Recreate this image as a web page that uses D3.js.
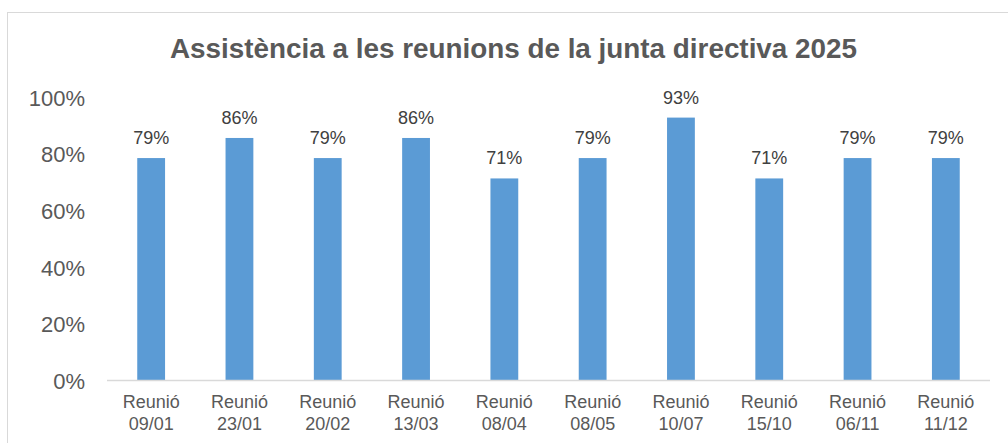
<!DOCTYPE html>
<html>
<head>
<meta charset="utf-8">
<script src="https://cdn.jsdelivr.net/npm/d3@7"></script>
<style>
  html, body { margin: 0; padding: 0; background: #fff; }
  svg { display: block; font-family: "Liberation Sans", Arial, sans-serif; }
</style>
</head>
<body>
<svg id="chart" width="1008" height="443"></svg>
<script>
const title = "Assistència a les reunions de la junta directiva 2025";
const categories = ["Reunió 09/01", "Reunió 23/01", "Reunió 20/02", "Reunió 13/03", "Reunió 08/04",
                    "Reunió 08/05", "Reunió 10/07", "Reunió 15/10", "Reunió 06/11", "Reunió 11/12"];
const values = [0.786, 0.857, 0.786, 0.857, 0.714, 0.786, 0.929, 0.714, 0.786, 0.786];
const yTicks = [0, 0.2, 0.4, 0.6, 0.8, 1.0];

const svg = d3.select("#chart");
const plot = { left: 107, right: 990, top: 97.5, bottom: 380.5 };

// chart frame (cropped on right and bottom)
svg.append("rect")
  .attr("x", 7.5).attr("y", 12.5)
  .attr("width", 1100).attr("height", 500)
  .attr("fill", "none").attr("stroke", "#d9d9d9").attr("stroke-width", 1);

svg.append("text")
  .attr("x", 513.5).attr("y", 57.5)
  .attr("text-anchor", "middle")
  .attr("font-size", 27.5).attr("font-weight", "bold")
  .attr("fill", "#595959")
  .attr("textLength", 687).attr("lengthAdjust", "spacingAndGlyphs")
  .text(title);

const x = d3.scaleBand().domain(categories).range([plot.left, plot.right]).paddingInner(0.685).paddingOuter(0.3425);
const y = d3.scaleLinear().domain([0, 1]).range([plot.bottom, plot.top]);

// y axis labels
const yAxis = d3.axisLeft(y).tickValues(yTicks).tickFormat(d3.format(".0%")).tickSize(0).tickPadding(0);
const gy = svg.append("g").attr("transform", `translate(85,0)`).call(yAxis);
gy.select(".domain").remove();
gy.selectAll("text").attr("font-size", 22).attr("fill", "#595959")
  .attr("font-family", "'Liberation Sans', Arial, sans-serif").attr("dy", "0.35em");

// bars
svg.append("g").selectAll("rect").data(values).join("rect")
  .attr("x", (d, i) => x(categories[i]))
  .attr("y", d => y(d))
  .attr("width", x.bandwidth())
  .attr("height", d => y(0) - y(d))
  .attr("fill", "#5b9bd5");

// data labels
svg.append("g").selectAll("text").data(values).join("text")
  .attr("x", (d, i) => x(categories[i]) + x.bandwidth() / 2)
  .attr("y", d => y(d) - 14)
  .attr("text-anchor", "middle")
  .attr("font-size", 18)
  .attr("fill", "#404040")
  .text(d => d3.format(".0%")(d));

// x axis
const xAxis = d3.axisBottom(x).tickSize(0).tickPadding(0);
const gx = svg.append("g").attr("transform", `translate(0,${plot.bottom})`).call(xAxis);
gx.select(".domain").attr("stroke", "#d9d9d9").attr("stroke-width", 1.3)
  .attr("d", `M${plot.left},0H${plot.right}`);
gx.selectAll(".tick text").each(function(d) {
  const t = d3.select(this);
  const parts = d.split(" ");
  t.text(null).attr("font-size", 18).attr("fill", "#595959")
    .attr("font-family", "'Liberation Sans', Arial, sans-serif").attr("y", 0).attr("dy", null);
  t.append("tspan").attr("x", 0).attr("y", 27.5).text(parts[0]);
  t.append("tspan").attr("x", 0).attr("y", 49).text(parts[1]);
});
</script>
</body>
</html>
